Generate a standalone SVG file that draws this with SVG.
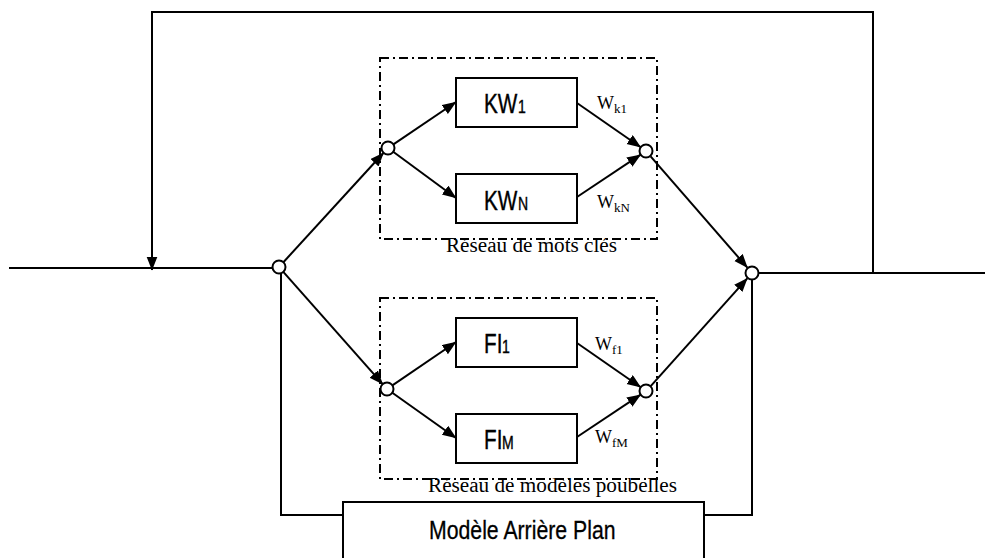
<svg xmlns="http://www.w3.org/2000/svg" width="985" height="558" viewBox="0 0 985 558">
<style>
.ln{fill:none;stroke:#000;stroke-width:2}
.bx{fill:#fff;stroke:#000;stroke-width:2}
.dd{fill:none;stroke:#000;stroke-width:2;stroke-dasharray:9 4 2 4}
.jn{fill:#fff;stroke:#000;stroke-width:2}
.nl{font-family:"Liberation Sans",Arial,sans-serif;font-size:28px;fill:#000;stroke:#000;stroke-width:0.4}
.sb{font-size:19px}
.ser{font-family:"Liberation Serif","Times New Roman",serif;fill:#000}
.w{font-size:18px}
.ws{font-size:13px}
.cap{font-size:20.5px}
</style>
<defs>
<marker id="ah" markerUnits="userSpaceOnUse" markerWidth="15" markerHeight="12" refX="13.5" refY="5.5" orient="auto">
<path d="M0,0 L14,5.5 L0,11 z" fill="#000"/>
</marker>
</defs>
<g id="groups">
<g id="kw-net">
<rect class="dd" x="380" y="58" width="277" height="181"/>
<text class="ser cap" x="446" y="252" textLength="171" lengthAdjust="spacingAndGlyphs">Réseau de mots clés</text>
</g>
<g id="fi-net">
<rect class="dd" x="380" y="298" width="277" height="181"/>
<text class="ser cap" x="428" y="492" textLength="249" lengthAdjust="spacingAndGlyphs">Réseau de modèles poubelles</text>
</g>
</g>
<g id="connectors">
<polyline class="ln" points="9,268 273,268"/>
<polyline class="ln" points="759,273 985,273"/>
<polyline class="ln" points="873,273 873,12 152,12 152,270" marker-end="url(#ah)"/>
<polyline class="ln" points="281,274 281,515 343,515"/>
<polyline class="ln" points="752,280 752,515 704,515"/>
<line class="ln" x1="283.4" y1="262.2" x2="383.6" y2="152.8" marker-end="url(#ah)"/>
<line class="ln" x1="283.3" y1="271.9" x2="382.7" y2="384.1" marker-end="url(#ah)"/>
<line class="ln" x1="393.4" y1="144.4" x2="456" y2="102" marker-end="url(#ah)"/>
<line class="ln" x1="393.2" y1="151.8" x2="456" y2="198" marker-end="url(#ah)"/>
<line class="ln" x1="392.4" y1="385.3" x2="456" y2="342" marker-end="url(#ah)"/>
<line class="ln" x1="392.3" y1="392.8" x2="456" y2="438" marker-end="url(#ah)"/>
<line class="ln" x1="577" y1="103" x2="640.7" y2="147.2" marker-end="url(#ah)"/>
<line class="ln" x1="577" y1="197" x2="640.6" y2="154.7" marker-end="url(#ah)"/>
<line class="ln" x1="577" y1="343" x2="640.7" y2="387.2" marker-end="url(#ah)"/>
<line class="ln" x1="577" y1="437" x2="640.6" y2="394.7" marker-end="url(#ah)"/>
<line class="ln" x1="650.6" y1="156.3" x2="747.4" y2="267.7" marker-end="url(#ah)"/>
<line class="ln" x1="650.7" y1="386.2" x2="747.3" y2="278.3" marker-end="url(#ah)"/>
<text class="ser w" x="597" y="109">W</text><text class="ser ws" x="614" y="113">k1</text>
<text class="ser w" x="597" y="208">W</text><text class="ser ws" x="614" y="212">kN</text>
<text class="ser w" x="595" y="350">W</text><text class="ser ws" x="612" y="354">f1</text>
<text class="ser w" x="595" y="443">W</text><text class="ser ws" x="612" y="447">fM</text>
</g>
<g id="j-in"><circle class="jn" cx="279" cy="267" r="6.5"/></g>
<g id="j-kw-in"><circle class="jn" cx="388" cy="148" r="6.5"/></g>
<g id="j-fi-in"><circle class="jn" cx="387" cy="389" r="6.5"/></g>
<g id="j-kw-out"><circle class="jn" cx="646" cy="151" r="6.5"/></g>
<g id="j-fi-out"><circle class="jn" cx="646" cy="391" r="6.5"/></g>
<g id="j-out"><circle class="jn" cx="752" cy="273" r="6.5"/></g>
<g id="kw1">
<rect class="bx" x="456" y="78" width="121" height="49"/>
<text class="nl" transform="translate(484,113) scale(0.74,1)">KW</text>
<text class="nl sb" transform="translate(518,113) scale(0.74,1)">1</text>
</g>
<g id="kwn">
<rect class="bx" x="456" y="174" width="121" height="49"/>
<text class="nl" transform="translate(484,210) scale(0.74,1)">KW</text>
<text class="nl sb" transform="translate(518,210) scale(0.74,1)">N</text>
</g>
<g id="fi1">
<rect class="bx" x="456" y="318" width="121" height="49"/>
<text class="nl" transform="translate(484,353) scale(0.74,1)">FI</text>
<text class="nl sb" transform="translate(502,353) scale(0.74,1)">1</text>
</g>
<g id="fim">
<rect class="bx" x="456" y="414" width="121" height="49"/>
<text class="nl" transform="translate(484,449) scale(0.74,1)">FI</text>
<text class="nl sb" transform="translate(502,449) scale(0.74,1)">M</text>
</g>
<g id="background-model">
<rect class="bx" x="343" y="502" width="361" height="70"/>
<text class="nl" transform="translate(429,539) scale(0.85,1)" style="font-size:25px;stroke-width:0.3">Modèle Arrière Plan</text>
</g>
</svg>
